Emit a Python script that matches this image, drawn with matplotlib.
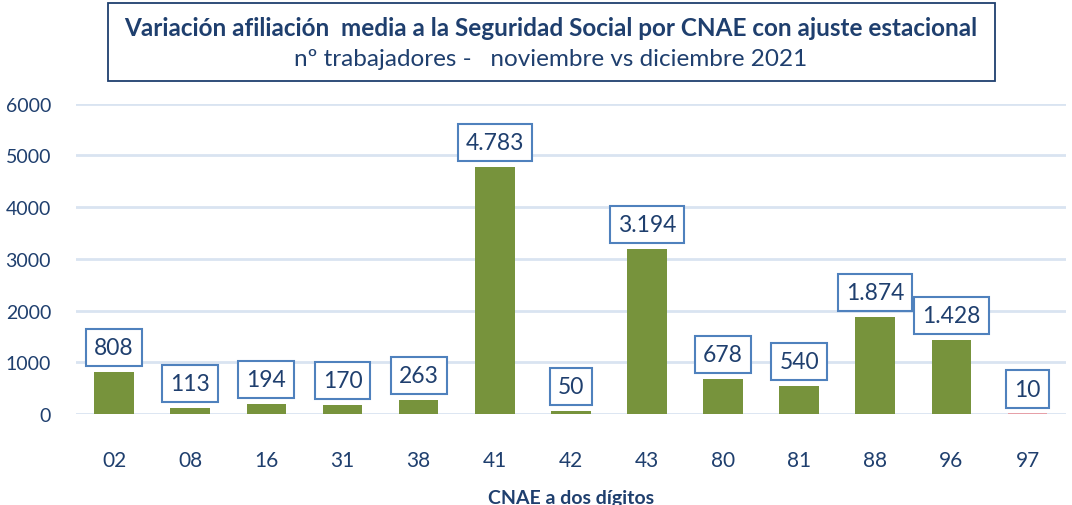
import matplotlib.pyplot as plt
import matplotlib.patches as mpatches

# Data
cnae = ['02', '08', '16', '31', '38', '41', '42', '43', '80', '81', '88', '96', '97']
variacion = [808, 113, 194, 170, 263, 4783, 50, 3194, 678, 540, 1874, 1428, 10]
etiquetas = ['808', '113', '194', '170', '263', '4.783', '50', '3.194', '678', '540', '1.874', '1.428', '10']

plt.rcParams['font.family'] = ['Lato', 'DejaVu Sans']
txt_color = '#1F3F6E'
green = '#77933C'

fig = plt.figure(figsize=(10.72, 5.06), dpi=100)
ax = fig.add_axes([0.071, 0.180, 0.923, 0.613])

x = range(len(cnae))
colors = [green] * (len(cnae) - 1) + ['#E6A0A8']
ax.bar(x, variacion, width=0.52, color=colors, zorder=3)

for i, (v, lab) in enumerate(zip(variacion, etiquetas)):
    ax.annotate(lab, (i, v), xytext=(0, 10), textcoords='offset points',
                ha='center', va='bottom', fontsize=16.5, color=txt_color,
                bbox=dict(boxstyle='square,pad=0.35', fc='white', ec='#4F81BD', lw=1.5),
                zorder=5)

ax.set_ylim(0, 6000)
ax.set_xlim(-0.5, len(cnae) - 0.5)
ax.set_yticks(range(0, 6001, 1000))
ax.set_xticks(list(x))
ax.set_xticklabels(cnae)
ax.grid(axis='y', color='#D9E4F1', lw=2, zorder=0)
ax.set_axisbelow(True)
for s in ax.spines.values():
    s.set_visible(False)
ax.tick_params(length=0, labelsize=14, colors=txt_color)
ax.tick_params(axis='x', pad=26, labelsize=15)
ax.tick_params(axis='y', pad=18)
ax.set_xlabel('CNAE a dos dígitos', fontsize=14, fontweight='bold', color=txt_color, labelpad=14)

# Title box
box = mpatches.Rectangle((108 / 1072, 1 - 82 / 506), (995 - 108) / 1072, 78 / 506,
                         transform=fig.transFigure, fc='white', ec='#1F3F6E', lw=1.3)
fig.patches.append(box)
fig.text(551 / 1072, 1 - 28 / 506, 'Variación afiliación  media a la Seguridad Social por CNAE con ajuste estacional',
         ha='center', va='center', fontsize=17.5, fontweight='bold', color=txt_color)
fig.text(551 / 1072, 1 - 60 / 506, 'nº trabajadores -   noviembre vs diciembre 2021',
         ha='center', va='center', fontsize=17.5, color=txt_color)

fig.savefig('out.png', dpi=100)
